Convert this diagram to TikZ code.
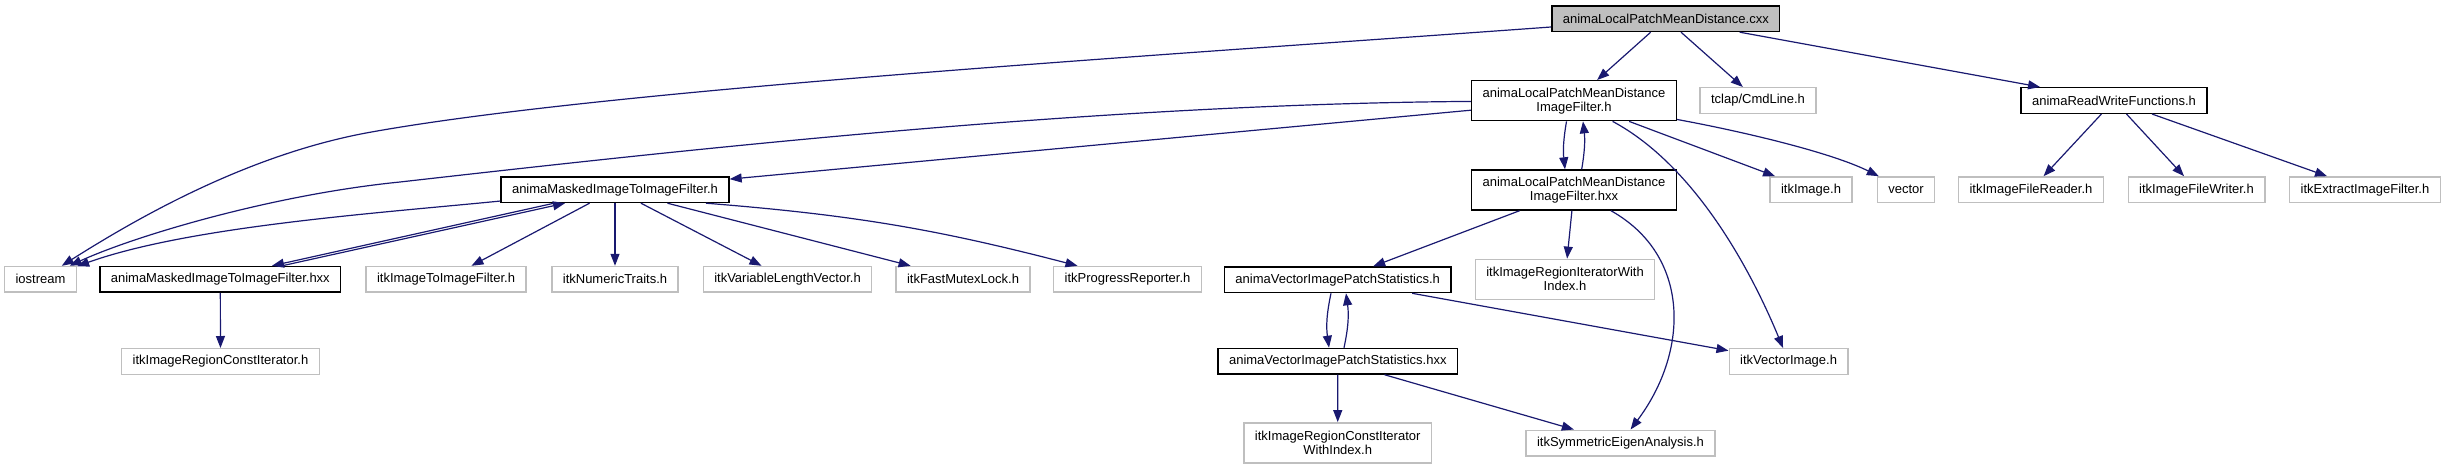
\documentclass[tikz,border=0pt]{standalone}
\usepackage{fontspec}
\setmainfont{Liberation Sans}
\usetikzlibrary{arrows.meta}
\definecolor{edgeblue}{HTML}{191970}
\definecolor{extgrey}{HTML}{BFBFBF}
\tikzset{
  file/.style = {draw, line width=1.4pt, fill=white, align=center,
                 font=\fontsize{13}{14}\selectfont,
                 inner xsep=11pt, inner ysep=1pt, minimum height=25.6pt},
  hdr/.style  = {file, draw=black},
  ext/.style  = {file, draw=extgrey},
  src/.style  = {hdr, fill=extgrey},
  twol/.style = {minimum height=40pt},
  dep/.style  = {-{Triangle[length=12pt, width=9pt]}, draw=edgeblue,
                 line width=1.2pt},
}

\begin{document}
\begin{tikzpicture}[x=1pt, y=-1pt]
    \useasboundingbox (0,0) rectangle (2445,469);

    \node[src] (cxx) at (1665.8,18.7) {animaLocalPatchMeanDistance.cxx};

    \node[hdr, twol] (lpmdh) at (1574,100.7) {animaLocalPatchMeanDistance\\ImageFilter.h};
    \node[ext] (tclap) at (1758,100.5) {tclap/CmdLine.h};
    \node[hdr] (rwf) at (2114,100.5) {animaReadWriteFunctions.h};

    \node[hdr] (maskh) at (615,189.7) {animaMaskedImageToImageFilter.h};
    \node[hdr, twol] (lpmdhxx) at (1574,190) {animaLocalPatchMeanDistance\\ImageFilter.hxx};
    \node[ext] (itkimg) at (1811,189.7) {itkImage.h};
    \node[ext] (vec) at (1906,189.7) {vector};
    \node[ext] (reader) at (2031,189.7) {itkImageFileReader.h};
    \node[ext] (writer) at (2196.5,189.7) {itkImageFileWriter.h};
    \node[ext] (extract) at (2365,189.7) {itkExtractImageFilter.h};

    \node[ext] (ios) at (40.5,279.3) {iostream};
    \node[hdr] (maskhxx) at (220.3,279.3) {animaMaskedImageToImageFilter.hxx};
    \node[ext] (imgfilt) at (446,279.3) {itkImageToImageFilter.h};
    \node[ext] (numtr) at (615,279.3) {itkNumericTraits.h};
    \node[ext] (varlen) at (787.5,279.3) {itkVariableLengthVector.h};
    \node[ext] (mutex) at (963,279.3) {itkFastMutexLock.h};
    \node[ext] (progr) at (1127.5,279.3) {itkProgressReporter.h};
    \node[hdr] (vipsh) at (1337.7,279.8) {animaVectorImagePatchStatistics.h};
    \node[ext, twol] (iterwi) at (1565,279.3) {itkImageRegionIteratorWith\\Index.h};

    \node[ext] (citer) at (220.5,361.5) {itkImageRegionConstIterator.h};
    \node[hdr] (vipshxx) at (1337.8,361.2) {animaVectorImagePatchStatistics.hxx};
    \node[ext] (vecimg) at (1788.6,361.5) {itkVectorImage.h};

    \node[ext, twol] (citerwi) at (1337.7,442.8) {itkImageRegionConstIterator\\WithIndex.h};
    \node[ext] (symeig) at (1620.5,443) {itkSymmetricEigenAnalysis.h};

    \draw[dep] (cxx) .. controls (1152,56) and (600,90) .. (366,133)
                     .. controls (249,155) and (142,215) .. (ios);
    \draw[dep] (cxx) -- (lpmdh);
    \draw[dep] (cxx) -- (tclap);
    \draw[dep] (cxx) -- (rwf);

    \draw[dep] (lpmdh) .. controls (1100,104) and (700,148) .. (400,182)
                       .. controls (270,195) and (132,237) .. (ios);
    \draw[dep] (lpmdh) -- (maskh);
    \draw[dep] ([xshift=-7.5pt]lpmdh.south) to[bend right=8] ([xshift=-9pt]lpmdhxx.north);
    \draw[dep] ([xshift=7.7pt]lpmdhxx.north) to[bend right=8] ([xshift=9pt]lpmdh.south);
    \draw[dep] (lpmdh) -- (itkimg);
    \draw[dep] (lpmdh) .. controls (1740,131) and (1830,152) .. (vec);
    \draw[dep] (lpmdh) .. controls (1694,165) and (1750,268) .. (vecimg);

    \draw[dep] (rwf) -- (reader);
    \draw[dep] (rwf) -- (writer);
    \draw[dep] (rwf) -- (extract);

    \draw[dep] (maskh) .. controls (380,213) and (190,226) .. (ios);
    \draw[dep] ([xshift=-61pt]maskh.south) -- ([xshift=51.7pt]maskhxx.north);
    \draw[dep] ([xshift=61.7pt]maskhxx.north) -- ([xshift=-50pt]maskh.south);
    \draw[dep] (maskh) -- (imgfilt);
    \draw[dep] (maskh) -- (numtr);
    \draw[dep] (maskh) -- (varlen);
    \draw[dep] (maskh) -- (mutex);
    \draw[dep] ([xshift=91pt]maskh.south) to[bend left=5] ([xshift=-50pt]progr.north);
    \draw[dep] (maskhxx) -- (citer);

    \draw[dep] (lpmdhxx) -- (vipsh);
    \draw[dep] (lpmdhxx) -- (iterwi);
    \draw[dep] (lpmdhxx) .. controls (1690,255) and (1690,350) .. (symeig);

    \draw[dep] ([xshift=-6.7pt]vipsh.south) to[bend right=10] ([xshift=-8.8pt]vipshxx.north);
    \draw[dep] ([xshift=6.2pt]vipshxx.north) to[bend right=10] ([xshift=8.3pt]vipsh.south);
    \draw[dep] (vipsh) -- (vecimg);
    \draw[dep] (vipshxx) -- (citerwi);
    \draw[dep] (vipshxx) -- (symeig);
\end{tikzpicture}
\end{document}
